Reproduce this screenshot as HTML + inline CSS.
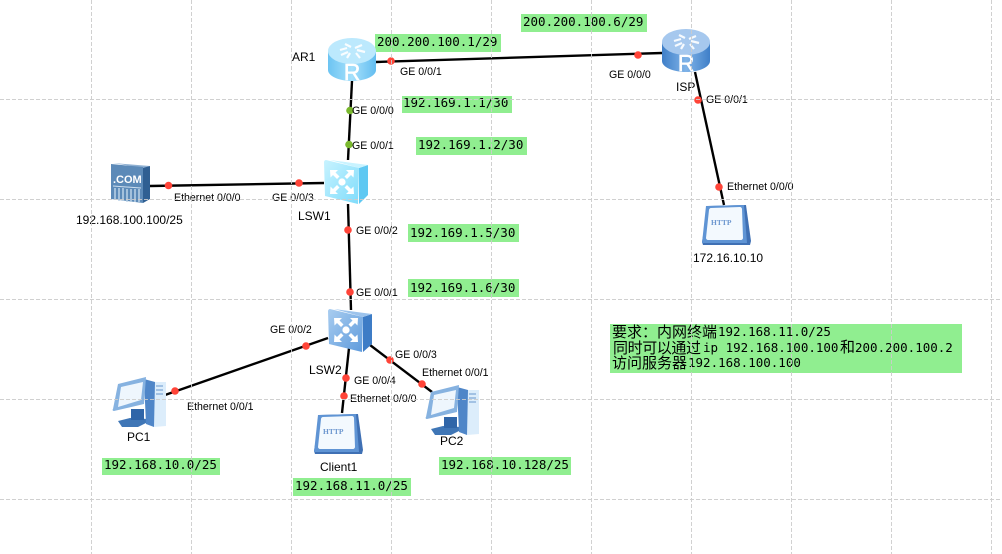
<!DOCTYPE html>
<html><head><meta charset="utf-8">
<style>
html,body{margin:0;padding:0;background:#fff;width:1002px;height:554px;overflow:hidden}
svg{display:block}
.m{font-family:"DejaVu Sans Mono","Liberation Mono",monospace;font-size:12.5px;fill:#000}
.l{font-family:"Liberation Sans",sans-serif;font-size:10.6px;fill:#000}
.n{font-family:"Liberation Sans",sans-serif;font-size:12px;fill:#000}
.c{font-family:"Liberation Sans","Noto Sans CJK SC",sans-serif;font-size:15px;fill:#000}
</style></head><body>
<svg width="1002" height="554" viewBox="0 0 1002 554" xmlns="http://www.w3.org/2000/svg">
<defs>
<linearGradient id="r1" x1="0" x2="1" y1="0" y2="0"><stop offset="0" stop-color="#6cc4f2"/><stop offset=".5" stop-color="#a5e0fb"/><stop offset="1" stop-color="#63bdf0"/></linearGradient>
<linearGradient id="r2" x1="0" x2="1" y1="0" y2="0"><stop offset="0" stop-color="#3f7fc8"/><stop offset=".5" stop-color="#7fb3e8"/><stop offset="1" stop-color="#3f7fc8"/></linearGradient>
<linearGradient id="s1" x1="0" x2="1" y1="0" y2="1"><stop offset="0" stop-color="#c8f3ff"/><stop offset="1" stop-color="#7fdcfb"/></linearGradient>
<linearGradient id="s2" x1="0" x2="1" y1="0" y2="1"><stop offset="0" stop-color="#a9cdf0"/><stop offset="1" stop-color="#5f9bdc"/></linearGradient>
<g id="arrows" fill="#fff">
<path d="M-12 -12h8l-2.500 2.500 4 4-2.500 2.500-4-4-2.500 2.500z"/><path d="M12 -12h-8l2.500 2.500-4 4 2.500 2.500 4-4 2.500 2.500z"/><path d="M-12 12h8l-2.500-2.500 4-4-2.500-2.500-4 4-2.500-2.500z"/><path d="M12 12h-8l2.500-2.500-4-4 2.500-2.500 4 4 2.500-2.500z"/><circle r="3.6"/>
</g>
<g id="routerTop" fill="none" stroke="#fff" stroke-width="2.200" opacity=".9">
<path d="M12 12l7-2M17 6l6 3M34 7l-7 3M37 14l-8-2M13 17l7-3M28 15l4 5M22 15l-3 5"/>
</g>
<g id="pc">
<path d="M6 44l12-3 18 1v3l-10 5H10z" fill="#3f76b6"/>
<path d="M19 32h13v11H19z" fill="#2f65a8"/>
<path d="M42 5h12v44l-12 1z" fill="#dcedfb"/>
<path d="M32 2l11 3-1 45-8-3z" fill="#4f86c8"/>
<path d="M6 7L34 0l-2 27-30 7c-1 0-2-1-1-2z" fill="#86b2e0"/>
<path d="M9 10l22-5-2 18-23 7z" fill="#eef6fd"/>
<path d="M44 9h7M44 13h7M44 17h7" stroke="#8fb4dc" stroke-width="1.400"/>
</g>
<g id="http">
<path d="M6 1l38-1 5 36-1 4H1l-1-3z" fill="#3f70b4"/>
<path d="M4 1l38-1 3 38H0z" fill="#5f94d4"/>
<path d="M7 5c0-1 1-2 2-2l29-1c1 0 2 1 2 2l1 29c0 1-1 2-2 2H6c-1 0-2-1-2-2z" fill="#f3f9fe"/>
<text x="9" y="20" font-family="Liberation Serif,serif" font-size="7.500" font-weight="bold" fill="#6c96cf">HTTP</text>
</g>
</defs>

<!-- green labels -->
<g fill="#90ee90">
<rect x="375" y="34" width="126" height="18"/>
<rect x="521" y="14" width="126" height="18"/>
<rect x="402" y="96" width="110" height="17"/>
<rect x="416" y="137" width="111" height="18"/>
<rect x="408" y="224" width="111" height="18"/>
<rect x="408" y="279" width="111" height="18"/>
<rect x="102" y="458" width="118" height="17"/>
<rect x="293" y="478" width="118" height="18"/>
<rect x="439" y="457" width="132" height="18"/>
<rect x="610" y="324" width="352" height="49"/>
</g>

<!-- connectors -->
<g stroke="#000" stroke-width="2.400" fill="none">
<path d="M376 62L662 53"/>
<path d="M352 81L348 160"/>
<path d="M150 186L324 183"/>
<path d="M348 204L351 310"/>
<path d="M328 338L165 395"/>
<path d="M349 348L342 413"/>
<path d="M370 345L432 392"/>
<path d="M695 72L724 205"/>
</g>

<!-- AR1 -->
<g transform="translate(328,38)">
<path d="M0 13v19c0 6 11 11 24 11s24-5 24-11V13z" fill="url(#r1)"/>
<ellipse cx="24" cy="13" rx="24" ry="13" fill="#bce9fd"/>
<use href="#routerTop"/>
<text x="24" y="42" text-anchor="middle" font-family="Liberation Sans,sans-serif" font-size="23" fill="#fff" stroke="#fff" stroke-width=".5">R</text>
</g>
<!-- ISP -->
<g transform="translate(662,29)">
<path d="M0 13v19c0 6 11 11 24 11s24-5 24-11V13z" fill="url(#r2)"/>
<ellipse cx="24" cy="13" rx="24" ry="13" fill="#a6c8ee"/>
<use href="#routerTop"/>
<text x="24" y="42" text-anchor="middle" font-family="Liberation Sans,sans-serif" font-size="23" fill="#fff" stroke="#fff" stroke-width=".5">R</text>
</g>
<!-- LSW1 -->
<g transform="translate(324,160)">
<path d="M35 8l9-3v30l-9 9z" fill="#5fc8f2"/>
<path d="M6 0l38 5-9 3z" fill="#c8f3ff"/>
<path d="M0 2c0-1 1-2 2-2l33 8-1 36-33-8z" fill="url(#s1)"/>
<use href="#arrows" transform="translate(18,22)"/>
</g>
<!-- LSW2 -->
<g transform="translate(328,309)">
<path d="M35 8l9-3v30l-9 8z" fill="#3d7cc6"/>
<path d="M6 0l38 5-9 3z" fill="#9cc3ec"/>
<path d="M0 2c0-1 1-2 2-2l33 8-1 35-33-8z" fill="url(#s2)"/>
<use href="#arrows" transform="translate(18,21)"/>
</g>
<!-- .COM server -->
<g transform="translate(110,163)">
<path d="M33 4l7-1v33l-7 4z" fill="#2f5f92"/>
<path d="M3 0l37 3-7 2z" fill="#8fb0d2"/>
<path d="M1 1l32 3v36L1 36z" fill="#5c8ab8"/>
<text x="3" y="20" font-family="Liberation Sans,sans-serif" font-size="11" font-weight="bold" fill="#fff">.COM</text>
<path d="M3 23l28 2" stroke="#cfe0f0" stroke-width="1"/>
<path d="M5 25v12M9 25v13M13 25v13M17 26v13M21 26v13M25 26v13M29 26v13" stroke="#bcd3e8" stroke-width="1.500"/>
</g>
<!-- PCs -->
<use href="#pc" transform="translate(112,377)"/>
<use href="#pc" transform="translate(425,385)"/>
<!-- HTTP -->
<use href="#http" transform="translate(702,205)"/>
<use href="#http" transform="translate(314,414)"/>

<!-- dots -->
<g fill="#ff4438">
<circle cx="391" cy="61" r="3.800"/><circle cx="638" cy="55" r="3.800"/>
<circle cx="698" cy="100" r="3.800"/><circle cx="719" cy="187" r="3.800"/>
<circle cx="168.500" cy="185.500" r="3.800"/><circle cx="299" cy="183" r="3.800"/>
<circle cx="348" cy="230" r="3.800"/><circle cx="350" cy="292" r="3.800"/>
<circle cx="306" cy="346" r="3.800"/><circle cx="175" cy="391" r="3.800"/>
<circle cx="346" cy="378" r="3.800"/><circle cx="344" cy="396" r="3.800"/>
<circle cx="390" cy="360" r="3.800"/><circle cx="422" cy="384" r="3.800"/>
</g>
<g fill="#7ab82e">
<circle cx="350" cy="110.500" r="3.800"/><circle cx="349" cy="144.500" r="3.800"/>
</g>

<!-- mono labels -->
<text class="m" x="377" y="46">200.200.100.1/29</text>
<text class="m" x="523" y="26">200.200.100.6/29</text>
<text class="m" x="403" y="107">192.169.1.1/30</text>
<text class="m" x="418" y="149">192.169.1.2/30</text>
<text class="m" x="410" y="237">192.169.1.5/30</text>
<text class="m" x="410" y="292">192.169.1.6/30</text>
<text class="m" x="104" y="469">192.168.10.0/25</text>
<text class="m" x="295" y="490">192.168.11.0/25</text>
<text class="m" x="441" y="469">192.168.10.128/25</text>

<!-- note -->
<text class="c" x="612" y="337">要求：内网终端</text><text class="m" x="718" y="336">192.168.11.0/25</text>
<text class="c" x="613" y="353" textLength="88">同时可以通过</text><text class="m" x="703" y="352">ip 192.168.100.100</text><text class="c" x="840" y="352">和</text><text class="m" x="855" y="352">200.200.100.2</text>
<text class="c" x="612" y="368">访问服务器</text><text class="m" x="688" y="367">192.168.100.100</text>

<!-- port labels -->
<text class="l" x="400" y="75">GE 0/0/1</text>
<text class="l" x="609" y="78">GE 0/0/0</text>
<text class="l" x="706" y="103">GE 0/0/1</text>
<text class="l" x="352" y="114">GE 0/0/0</text>
<text class="l" x="352" y="149">GE 0/0/1</text>
<text class="l" x="174" y="201">Ethernet 0/0/0</text>
<text class="l" x="272" y="201">GE 0/0/3</text>
<text class="l" x="356" y="234">GE 0/0/2</text>
<text class="l" x="356" y="296">GE 0/0/1</text>
<text class="l" x="727" y="190">Ethernet 0/0/0</text>
<text class="l" x="270" y="333">GE 0/0/2</text>
<text class="l" x="395" y="358">GE 0/0/3</text>
<text class="l" x="354" y="384">GE 0/0/4</text>
<text class="l" x="350" y="402">Ethernet 0/0/0</text>
<text class="l" x="422" y="376">Ethernet 0/0/1</text>
<text class="l" x="187" y="410">Ethernet 0/0/1</text>

<!-- node labels -->
<text class="n" x="292" y="61">AR1</text>
<text class="n" x="676" y="91">ISP</text>
<text class="n" x="298" y="220">LSW1</text>
<text class="n" x="309" y="374">LSW2</text>
<text class="n" x="76" y="224">192.168.100.100/25</text>
<text class="n" x="693" y="262">172.16.10.10</text>
<text class="n" x="127" y="441">PC1</text>
<text class="n" x="440" y="445">PC2</text>
<text class="n" x="320" y="471">Client1</text>

<!-- grid on top -->
<g stroke="#cccccc" stroke-width="1" stroke-dasharray="4 2" fill="none" opacity=".9">
<path d="M91.500 0V554M191.500 0V554M291.500 0V554M391.500 0V554M491.500 0V554M591.500 0V554M691.500 0V554M791.500 0V554M891.500 0V554M991.500 0V554"/>
<path d="M0 99.500H1002M0 199.500H1002M0 299.500H1002M0 399.500H1002M0 499.500H1002"/>
</g>
</svg>
</body></html>
